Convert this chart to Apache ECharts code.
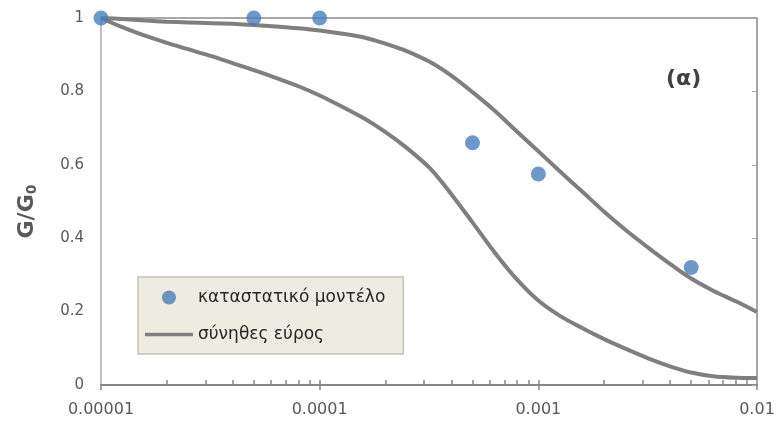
<!DOCTYPE html>
<html>
<head>
<meta charset="utf-8">
<script src="https://cdn.jsdelivr.net/npm/echarts@6/dist/echarts.min.js"></script>
<style>
  html, body { margin: 0; padding: 0; background: #fff; }
  #chart { width: 779px; height: 423px; }
</style>
</head>
<body>
<div id="chart"></div>
<script>
// Shear strain (common abscissa of the two bounding curves)
const strain = [1e-5, 1.25e-5, 1.6e-5, 2e-5, 2.5e-5, 3.2e-5, 4e-5, 5e-5, 6.3e-5, 8e-5,
                1e-4, 1.25e-4, 1.6e-4, 2e-4, 2.5e-4, 3.2e-4, 4e-4, 5e-4, 6.3e-4, 8e-4,
                1e-3, 1.25e-3, 1.6e-3, 2e-3, 2.5e-3, 3.2e-3, 4e-3, 5e-3, 6.3e-3, 8e-3,
                1e-2];
// Upper bound of the usual G/G0 range
const upperBound = [1.000, 0.997, 0.993, 0.990, 0.988, 0.986, 0.984, 0.981, 0.977, 0.972,
                    0.966, 0.958, 0.947, 0.930, 0.910, 0.880, 0.843, 0.798, 0.748, 0.690,
                    0.637, 0.583, 0.525, 0.472, 0.423, 0.373, 0.330, 0.290, 0.257, 0.228,
                    0.199];
// Lower bound of the usual G/G0 range
const lowerBound = [1.000, 0.975, 0.951, 0.932, 0.915, 0.896, 0.877, 0.858, 0.837, 0.814,
                    0.789, 0.760, 0.726, 0.689, 0.646, 0.590, 0.520, 0.443, 0.362, 0.287,
                    0.230, 0.189, 0.154, 0.125, 0.099, 0.072, 0.051, 0.034, 0.024, 0.020,
                    0.019];
// Constitutive model results
const modelStrain = [1e-5, 5e-5, 1e-4, 5e-4, 1e-3, 5e-3];
const modelRatio = [1.0, 1.0, 1.0, 0.66, 0.575, 0.32];
// Axis tick labels
const xTickLabels = ['0.00001', '0.0001', '0.001', '0.01'];
const yTickLabels = ['0', '0.2', '0.4', '0.6', '0.8', '1'];

const seriesModel = 'καταστατικό μοντέλο';
const seriesRange = 'σύνηθες εύρος';

// Minor tick positions of the logarithmic axis (2..9 within each decade)
const minorTicks = [];
for (let e = -5; e < -2; e++) {
  for (let m = 2; m <= 9; m++) minorTicks.push(m * Math.pow(10, e));
}

const font = 'DejaVu Sans, Noto Sans, sans-serif';
const zip = (xs, ys) => xs.map((x, i) => [x, ys[i]]);

const chart = echarts.init(document.getElementById('chart'), null, { renderer: 'canvas' });
chart.setOption({
  animation: false,
  backgroundColor: '#ffffff',
  textStyle: { fontFamily: font },
  grid: {
    left: 101, right: 22, top: 18, bottom: 38,
    show: true, borderColor: '#8c8c8c', borderWidth: 1.5, backgroundColor: 'transparent'
  },
  legend: {
    data: [
      { name: seriesModel },
      // plain line sample: a 48x14 box with a 3.5px bar in the middle
      { name: seriesRange, icon: 'path://M0,0M0,5.25L48,5.25L48,8.75L0,8.75ZM48,14' }
    ],
    orient: 'vertical',
    left: 138, top: 277,
    padding: [12, 18, 11, 7],
    itemWidth: 48, itemHeight: 14, itemGap: 20,
    symbolKeepAspect: false,
    backgroundColor: '#eeece1',
    borderColor: '#c4c2b8', borderWidth: 1.5,
    textStyle: { fontFamily: font, fontSize: 17, color: '#262626' }
  },
  xAxis: [
    {
      type: 'log', logBase: 10, min: 1e-5, max: 1e-2,
      axisLine: { lineStyle: { color: '#868686', width: 2 } },
      axisTick: { show: true, inside: false, length: 5, lineStyle: { color: '#868686', width: 1.5 } },
      splitLine: { show: false },
      axisLabel: {
        margin: 17, fontSize: 16, color: '#595959', fontFamily: font,
        formatter: v => xTickLabels[Math.round(Math.log10(v)) + 5]
      }
    },
    {
      type: 'log', logBase: 10, min: 1e-5, max: 1e-2, position: 'bottom',
      axisLine: { show: false },
      axisTick: {
        show: true, inside: true, length: 5, customValues: minorTicks.concat([1e-4, 1e-3]),
        lineStyle: { color: '#868686', width: 1.5 }
      },
      splitLine: { show: false },
      axisLabel: { show: false }
    }
  ],
  yAxis: [
    {
      type: 'value', min: 0, max: 1, interval: 0.2,
      axisLine: { show: true, lineStyle: { color: '#bfbfbf', width: 2 } },
      axisTick: { show: false },
      splitLine: { show: false },
      axisLabel: {
        margin: 17, fontSize: 15, color: '#595959', fontFamily: font,
        formatter: v => yTickLabels[Math.round(v * 5)]
      },
      name: '{a|G/G}{b|0}',
      nameLocation: 'middle',
      nameGap: 62,
      nameRotate: 90,
      nameTextStyle: {
        color: '#595959',
        padding: [0, 20, 0, 0],
        rich: {
          a: { fontSize: 22, fontWeight: 'bold', fontFamily: font, color: '#595959' },
          b: { fontSize: 14, fontWeight: 'bold', fontFamily: font, color: '#595959',
               verticalAlign: 'bottom', padding: [10, 0, 0, 0] }
        }
      }
    },
    {
      type: 'value', min: 0, max: 1, interval: 0.2, position: 'right',
      axisLine: { show: true, lineStyle: { color: '#a6a6a6', width: 2 } },
      axisTick: { show: true, inside: true, length: 5, lineStyle: { color: '#a6a6a6' } },
      splitLine: { show: false },
      axisLabel: { show: false }
    }
  ],
  graphic: [
    {
      type: 'text', left: 666, top: 68,
      style: { text: '(α)', fontSize: 22, fontWeight: 'bold', fill: '#404040', fontFamily: font }
    }
  ],
  series: [
    {
      name: seriesRange, type: 'line', smooth: 0.3, symbol: 'none',
      data: zip(strain, upperBound),
      lineStyle: { color: '#7f7f7f', width: 4 }, itemStyle: { color: '#7f7f7f' }, z: 2
    },
    {
      name: seriesRange, type: 'line', smooth: 0.3, symbol: 'none',
      data: zip(strain, lowerBound),
      lineStyle: { color: '#7f7f7f', width: 4 }, itemStyle: { color: '#7f7f7f' }, z: 2
    },
    {
      name: seriesModel, type: 'scatter', symbol: 'circle', symbolSize: 15,
      data: zip(modelStrain, modelRatio),
      itemStyle: { color: '#4a7ebb' }, z: 5
    }
  ]
});
</script>
</body>
</html>
